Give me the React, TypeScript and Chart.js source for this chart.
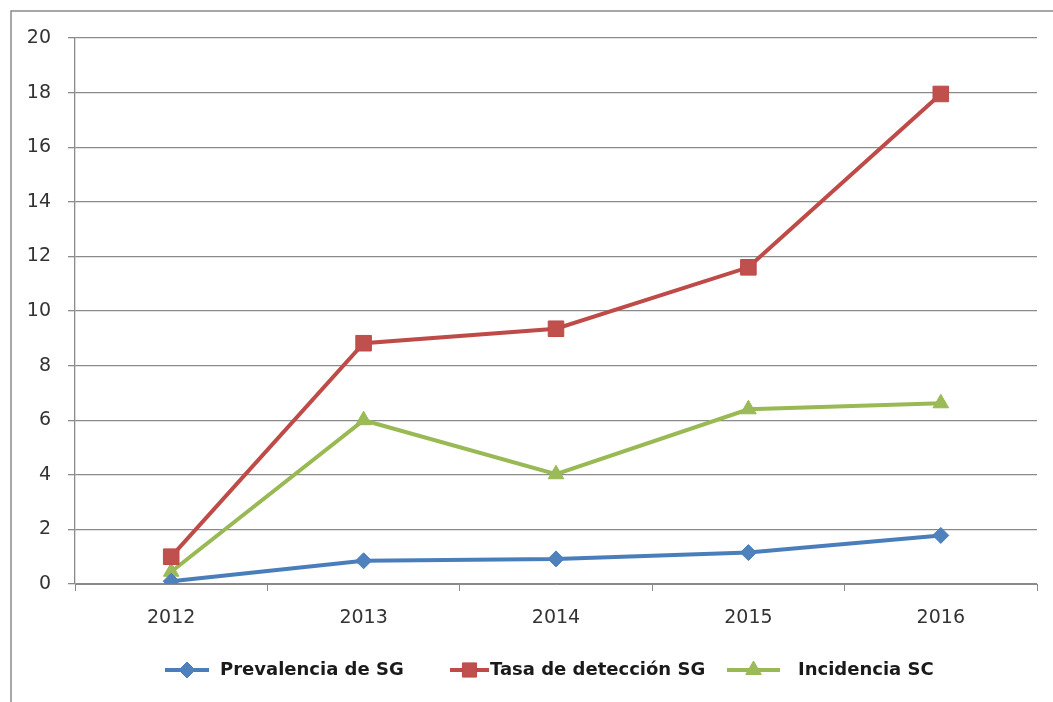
import React, { useEffect, useRef } from "react";
import { Chart, registerables } from "chart.js";

Chart.register(...registerables);

const years = ["2012", "2013", "2014", "2015", "2016"];
const prevalencia = [0.1, 0.85, 0.92, 1.15, 1.78];
const tasaDeteccion = [1.0, 8.82, 9.35, 11.6, 17.95];
const incidencia = [0.45, 6.0, 4.02, 6.4, 6.62];
const seriesNames = ["Prevalencia de SG", "Tasa de detección SG", "Incidencia SC"];

const BLUE_LINE = "#4a7ebb";
const BLUE_FILL = "#4f81bd";
const RED_LINE = "#be4b48";
const RED_FILL = "#c0504d";
const GREEN_LINE = "#98b954";
const GREEN_FILL = "#9bbb59";

const legendItems = [
  { text: seriesNames[0], line: BLUE_LINE, fill: BLUE_FILL, style: "rectRot", r: 8, x0: 165, x1: 209, tx: 220 },
  { text: seriesNames[1], line: RED_LINE, fill: RED_FILL, style: "rect", r: 10, x0: 450, x1: 489, tx: 490 },
  { text: seriesNames[2], line: GREEN_LINE, fill: GREEN_FILL, style: "triangle", r: 9, x0: 727, x1: 780, tx: 798 },
];

function drawMarker(ctx: CanvasRenderingContext2D, style: string, x: number, y: number, r: number) {
  ctx.beginPath();
  if (style === "rectRot") {
    ctx.moveTo(x, y - r);
    ctx.lineTo(x + r, y);
    ctx.lineTo(x, y + r);
    ctx.lineTo(x - r, y);
  } else if (style === "rect") {
    const s = r * Math.SQRT1_2;
    ctx.rect(x - s, y - s, 2 * s, 2 * s);
  } else {
    ctx.moveTo(x, y - r);
    ctx.lineTo(x + r * 0.866, y + r * 0.5);
    ctx.lineTo(x - r * 0.866, y + r * 0.5);
  }
  ctx.closePath();
  ctx.fill();
  ctx.stroke();
}

const framePlugin = {
  id: "frame",
  beforeDraw(chart: any) {
    const ctx = chart.ctx;
    ctx.save();
    ctx.strokeStyle = "#8a8a8a";
    ctx.lineWidth = 1.5;
    ctx.beginPath();
    ctx.moveTo(11, 702);
    ctx.lineTo(11, 11);
    ctx.lineTo(1053, 11);
    ctx.stroke();
    ctx.restore();
  },
  afterDraw(chart: any) {
    const ctx = chart.ctx;
    ctx.save();
    const y = 670;
    ctx.font = "bold 18px 'DejaVu Sans'";
    ctx.textBaseline = "middle";
    for (const it of legendItems) {
      ctx.strokeStyle = it.line;
      ctx.lineWidth = 4;
      ctx.beginPath();
      ctx.moveTo(it.x0, y);
      ctx.lineTo(it.x1, y);
      ctx.stroke();
      const cx = (it.x0 + it.x1) / 2;
      ctx.fillStyle = it.fill;
      ctx.strokeStyle = it.line;
      ctx.lineWidth = 1;
      drawMarker(ctx, it.style, cx, y, it.r);
      ctx.fillStyle = "#1a1a1a";
      ctx.fillText(it.text, it.tx, y);
    }
    ctx.restore();
  },
};

export default function App() {
  const ref = useRef<HTMLCanvasElement>(null);
  useEffect(() => {
    if (!ref.current) return;
    const chart = new Chart(ref.current, {
      type: "line",
      data: {
        labels: years,
        datasets: [
          {
            label: seriesNames[0],
            data: prevalencia,
            borderColor: BLUE_LINE,
            backgroundColor: BLUE_FILL,
            borderWidth: 4,
            pointStyle: "rectRot",
            pointRadius: 8,
            pointBorderWidth: 1,
          },
          {
            label: seriesNames[1],
            data: tasaDeteccion,
            borderColor: RED_LINE,
            backgroundColor: RED_FILL,
            borderWidth: 4,
            pointStyle: "rect",
            pointRadius: 11,
            pointBorderWidth: 1,
          },
          {
            label: seriesNames[2],
            data: incidencia,
            borderColor: GREEN_LINE,
            backgroundColor: GREEN_FILL,
            borderWidth: 4,
            pointStyle: "triangle",
            pointRadius: 9,
            pointBorderWidth: 1,
          },
        ],
      },
      options: {
        responsive: false,
        animation: false,
        layout: { padding: { left: 0, right: 16, top: 38, bottom: 58 } },
        plugins: { legend: { display: false }, tooltip: { enabled: false } },
        scales: {
          x: {
            offset: true,
            grid: { drawOnChartArea: false, drawTicks: true, tickLength: 7, color: "#8a8a8a", offset: true },
            border: { color: "#8a8a8a" },
            ticks: { color: "#333", font: { family: "DejaVu Sans", size: 19 }, padding: 16 },
            afterFit: (s: any) => { s.height = 60; },
          },
          y: {
            min: 0,
            max: 20,
            ticks: { stepSize: 2, color: "#333", font: { family: "DejaVu Sans", size: 19 }, padding: 17 },
            grid: { color: "#8a8a8a", tickLength: 7, lineWidth: 1.3 },
            border: { color: "#8a8a8a", width: 1.3 },
            afterFit: (s: any) => { s.width = 75; },
          },
        },
      },
      plugins: [framePlugin],
    });
    return () => chart.destroy();
  }, []);
  return (
    <div style={{ position: "absolute", left: 0, top: 0, width: 1053, height: 702, background: "#fff" }}>
      <canvas ref={ref} width={1053} height={702} />
    </div>
  );
}
